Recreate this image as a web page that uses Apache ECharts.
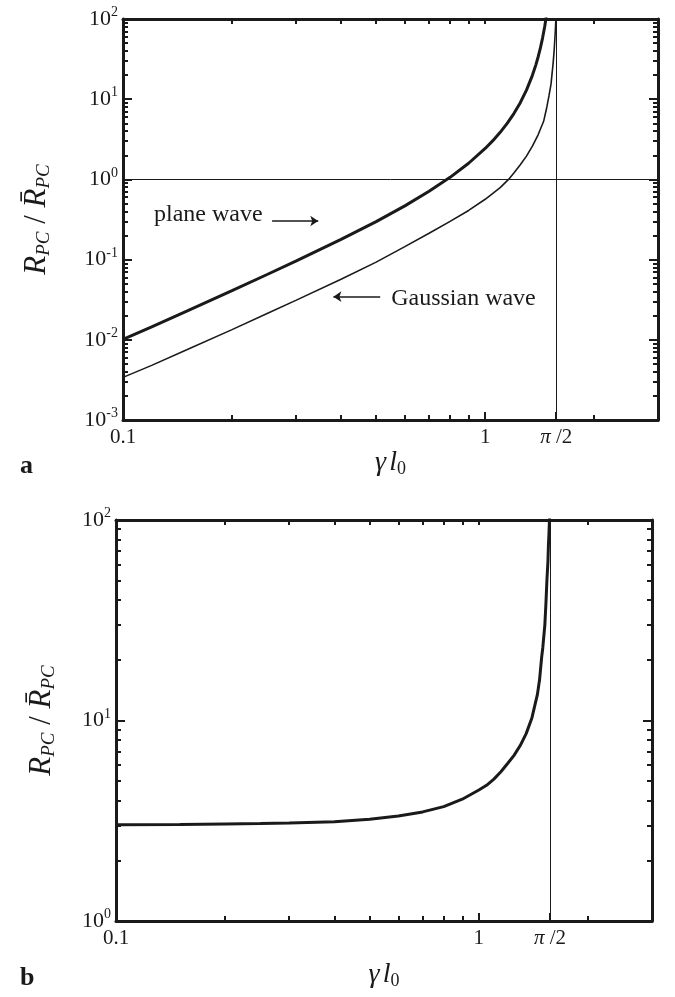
<!DOCTYPE html>
<html>
<head>
<meta charset="utf-8">
<script src="https://cdn.jsdelivr.net/npm/echarts@6/dist/echarts.min.js"></script>
<style>
  html, body { margin: 0; padding: 0; background: #fff; }
  #main { width: 675px; height: 997px; }
</style>
</head>
<body>
<div id="main"></div>
<script>
var HALF_PI = Math.PI / 2;

// panel a: plane wave
var planeX = [0.1, 0.12, 0.15, 0.2, 0.25, 0.3, 0.4, 0.5, 0.6, 0.7, 0.8, 0.9, 1.0, 1.05, 1.1, 1.15, 1.2, 1.25, 1.3, 1.35, 1.38, 1.4, 1.42, 1.44, 1.46, 1.47, 1.48];
var planeY = [0.0101, 0.0145, 0.0228, 0.0411, 0.0652, 0.0957, 0.179, 0.298, 0.468, 0.71, 1.06, 1.59, 2.43, 3.04, 3.86, 4.99, 6.62, 9.06, 12.97, 19.85, 26.8, 33.6, 43.3, 57.8, 80.7, 97.7, 120.6];

// panel a: Gaussian wave
var gaussX = [0.1, 0.12, 0.15, 0.2, 0.25, 0.3, 0.4, 0.5, 0.6, 0.7, 0.8, 0.9, 1.0, 1.1, 1.16, 1.2, 1.25, 1.3, 1.35, 1.4, 1.45, 1.48, 1.5, 1.52, 1.53, 1.54, 1.55, 1.56, 1.565, 1.5708];
var gaussY = [0.0034, 0.0048, 0.0075, 0.0134, 0.0213, 0.031, 0.057, 0.093, 0.145, 0.213, 0.30, 0.41, 0.565, 0.79, 1.0, 1.2, 1.52, 1.95, 2.6, 3.6, 5.3, 8.0, 11, 15.5, 21, 28, 40, 65, 85, 130];

// panel b: ratio
var ratioX = [0.1, 0.15, 0.2, 0.25, 0.3, 0.4, 0.5, 0.6, 0.7, 0.8, 0.9, 1.0, 1.05, 1.1, 1.15, 1.2, 1.25, 1.3, 1.35, 1.4, 1.42, 1.45, 1.47, 1.49, 1.5, 1.52, 1.53, 1.54, 1.55, 1.555, 1.56, 1.565, 1.57];
var ratioY = [3.02, 3.03, 3.05, 3.06, 3.08, 3.13, 3.22, 3.34, 3.50, 3.72, 4.05, 4.5, 4.75, 5.1, 5.55, 6.1, 6.7, 7.5, 8.6, 10.3, 11.5, 13.5, 16, 20.8, 23, 30, 38, 50, 62, 75, 85, 100, 130];

// ticks and labels
var xLabelVals = [0.1, 1, HALF_PI];
var xLabelText = ['0.1', '1', '{p|π} /2'];
var xTickMinor = [0.2, 0.3, 0.4, 0.5, 0.6, 0.7, 0.8, 0.9, 2, 3];
var xTickMajor = [1, HALF_PI];
var xTickTop = [0.2, 0.3, 0.4, 0.5, 0.6, 0.7, 0.8, 0.9, 1, 2];
var yMajorA = [0.001, 0.01, 0.1, 1, 10, 100];
var yMajorB = [1, 10, 100];

function minorTicks(lo, hi) {
    var out = [];
    for (var e = lo; e < hi; e++) {
        for (var k = 2; k <= 9; k++) out.push(k * Math.pow(10, e));
    }
    return out;
}
var yMinorA = minorTicks(-3, 2);
var yMinorB = minorTicks(0, 2);

var FONT = 'Liberation Serif';
var ink = '#1a1a1a';

function pairs(xs, ys) {
    return xs.map(function (x, i) { return [x, ys[i]]; });
}

function xFmt(v) {
    for (var i = 0; i < xLabelVals.length; i++) {
        if (Math.abs(v - xLabelVals[i]) < 1e-6) return xLabelText[i];
    }
    return '';
}
function yFmt(v) {
    var e = Math.round(Math.log(v) / Math.LN10);
    return '{b|10}{s|' + e + '}';
}

var labelRich = {
    b: { fontFamily: FONT, fontSize: 22, color: ink },
    s: { fontFamily: FONT, fontSize: 14, color: ink, padding: [0, 0, 13, 0] }
};
var xLabelRich = {
    p: { fontFamily: FONT, fontStyle: 'italic', fontSize: 21, color: ink }
};
var nameRich = {
    i: { fontFamily: FONT, fontStyle: 'italic', fontSize: 31, color: ink },
    s: { fontFamily: FONT, fontStyle: 'italic', fontSize: 19, color: ink, padding: [13, 0, 0, 0] },
    z: { fontFamily: FONT, fontSize: 18, color: ink, padding: [13, 0, 0, 0] },
    g: { fontFamily: FONT, fontStyle: 'italic', fontSize: 28, color: ink },
    n: { fontFamily: FONT, fontSize: 31, color: ink }
};

function xAxes(gi, nameGap) {
    var common = { type: 'log', logBase: 10, gridIndex: gi, min: 0.1, max: 3, splitLine: { show: false } };
    return [
        Object.assign({}, common, {
            position: 'bottom',
            name: '{g|γ} {g|l}{z|0}',
            nameLocation: 'middle',
            nameGap: nameGap,
            nameTextStyle: { rich: nameRich },
            axisLine: { show: true, onZero: false, lineStyle: { color: ink, width: 3 } },
            axisTick: { show: true, inside: true, length: 5, customValues: xTickMinor, lineStyle: { color: ink, width: 2 } },
            axisLabel: { show: true, customValues: xLabelVals, formatter: xFmt, margin: 7, fontFamily: FONT, fontSize: 21, color: ink, rich: xLabelRich }
        }),
        Object.assign({}, common, {
            position: 'bottom',
            axisLine: { show: false },
            axisTick: { show: true, inside: true, length: 8, customValues: xTickMajor, lineStyle: { color: ink, width: 2 } },
            axisLabel: { show: false }
        }),
        Object.assign({}, common, {
            position: 'top',
            axisLine: { show: true, onZero: false, lineStyle: { color: ink, width: 3 } },
            axisTick: { show: true, inside: true, length: 5, customValues: xTickTop, lineStyle: { color: ink, width: 2 } },
            axisLabel: { show: false }
        })
    ];
}

function yAxes(gi, min, max, majors, minors, nameGap) {
    var common = { type: 'log', logBase: 10, gridIndex: gi, min: min, max: max, splitLine: { show: false } };
    var tickStyle = { color: ink, width: 2 };
    return [
        Object.assign({}, common, {
            position: 'left',
            name: '{i|R}{s|PC}{n| / }{i|R̄}{s|PC}',
            nameLocation: 'middle',
            nameRotate: 90,
            nameGap: nameGap,
            nameTextStyle: { rich: nameRich },
            axisLine: { show: true, onZero: false, lineStyle: { color: ink, width: 3 } },
            axisTick: { show: true, inside: true, length: 5, customValues: minors, lineStyle: tickStyle },
            axisLabel: { show: true, customValues: majors, formatter: yFmt, margin: 5, rich: labelRich }
        }),
        Object.assign({}, common, {
            position: 'left',
            axisLine: { show: false },
            axisTick: { show: true, inside: true, length: 9, customValues: majors, lineStyle: tickStyle },
            axisLabel: { show: false }
        }),
        Object.assign({}, common, {
            position: 'right',
            axisLine: { show: true, onZero: false, lineStyle: { color: ink, width: 3 } },
            axisTick: { show: true, inside: true, length: 5, customValues: minors, lineStyle: tickStyle },
            axisLabel: { show: false }
        }),
        Object.assign({}, common, {
            position: 'right',
            axisLine: { show: false },
            axisTick: { show: true, inside: true, length: 9, customValues: majors, lineStyle: tickStyle },
            axisLabel: { show: false }
        })
    ];
}

var annoLabel = { show: true, position: 'inside', formatter: '{b}', fontFamily: FONT, fontSize: 24, color: ink };

var myChart = echarts.init(document.getElementById('main'), null, { renderer: 'canvas' });

var option = {
    animation: false,
    backgroundColor: '#fff',
    grid: [
        { left: 123, top: 19, width: 535, height: 401 },
        { left: 116, top: 520, width: 536, height: 401 }
    ],
    xAxis: xAxes(0, 25).concat(xAxes(1, 38)),
    yAxis: yAxes(0, 0.001, 100, yMajorA, yMinorA, 70).concat(yAxes(1, 1, 100, yMajorB, yMinorB, 58)),
    graphic: [
        { type: 'text', left: 20, top: 453, style: { text: 'a', font: 'bold 26px "Liberation Serif"', fill: ink } },
        { type: 'text', left: 20, top: 965, style: { text: 'b', font: 'bold 26px "Liberation Serif"', fill: ink } }
    ],
    series: [
        {
            name: 'plane wave',
            type: 'line',
            xAxisIndex: 0,
            yAxisIndex: 0,
            data: pairs(planeX, planeY),
            showSymbol: false,
            lineStyle: { color: ink, width: 3 },
            markLine: {
                silent: true,
                symbol: 'none',
                label: { show: false },
                lineStyle: { color: ink, width: 1, type: 'solid' },
                data: [{ yAxis: 1 }, { xAxis: HALF_PI }]
            },
            markPoint: {
                silent: true,
                symbol: 'circle',
                symbolSize: 0,
                label: annoLabel,
                data: [{ name: 'plane wave', coord: [0.172, 0.36] }]
            }
        },
        {
            name: 'Gaussian wave',
            type: 'line',
            xAxisIndex: 0,
            yAxisIndex: 0,
            data: pairs(gaussX, gaussY),
            showSymbol: false,
            lineStyle: { color: ink, width: 1.6 },
            markLine: {
                silent: true,
                symbol: ['none', 'arrow'],
                symbolSize: 8,
                label: { show: false },
                lineStyle: { color: ink, width: 1.5, type: 'solid' },
                data: [
                    [{ coord: [0.258, 0.303] }, { coord: [0.346, 0.303] }],
                    [{ coord: [0.513, 0.0345] }, { coord: [0.381, 0.0345] }]
                ]
            },
            markPoint: {
                silent: true,
                symbol: 'circle',
                symbolSize: 0,
                label: annoLabel,
                data: [{ name: 'Gaussian wave', coord: [0.871, 0.0329] }]
            }
        },
        {
            name: 'ratio',
            type: 'line',
            xAxisIndex: 3,
            yAxisIndex: 4,
            data: pairs(ratioX, ratioY),
            showSymbol: false,
            lineStyle: { color: ink, width: 3 },
            markLine: {
                silent: true,
                symbol: 'none',
                label: { show: false },
                lineStyle: { color: ink, width: 1, type: 'solid' },
                data: [{ xAxis: HALF_PI }]
            }
        }
    ]
};

if (option && typeof option === 'object') {
    myChart.setOption(option);
}

window.addEventListener('resize', myChart.resize);
</script>
</body>
</html>
